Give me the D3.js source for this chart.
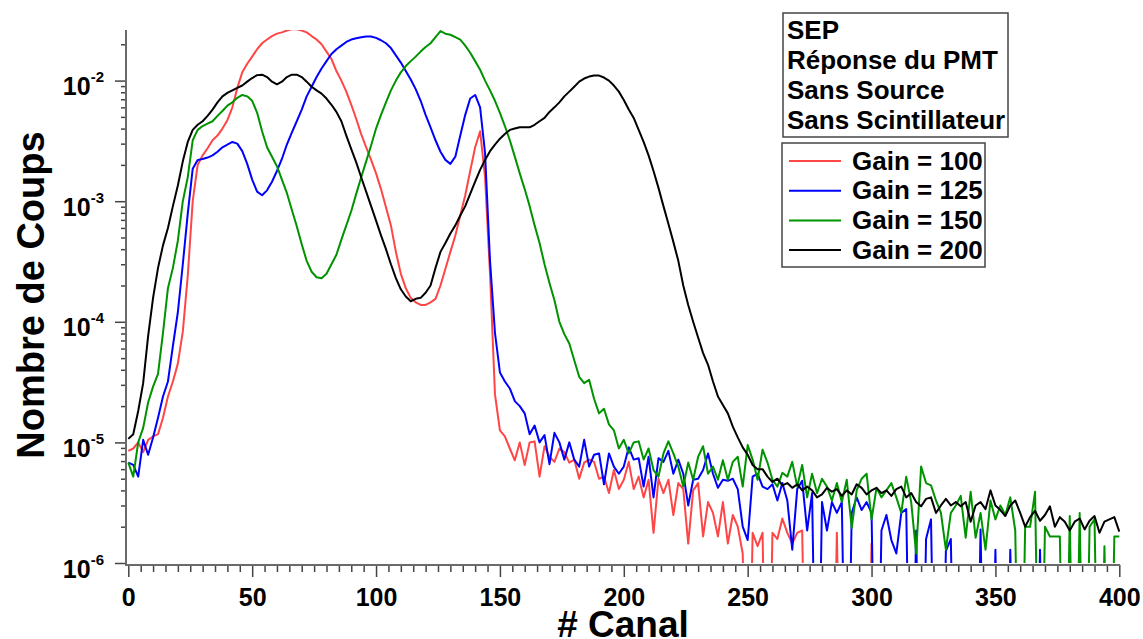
<!DOCTYPE html>
<html>
<head>
<meta charset="utf-8">
<script src="https://cdn.jsdelivr.net/npm/d3@7"></script>
<style>
body { margin: 0; background: #fff; }
text { font-family: "Liberation Sans", Arial, Helvetica, sans-serif; font-weight: bold; fill: #000; }
</style>
</head>
<body>
<script>
// channel numbers (every 2nd channel)
var channels = d3.range(0, 401, 2);

// counts per channel, one value per entry of channels
var gain100 = [
  8.5e-6, 8.9e-6, 1.0e-5, 8.3e-6, 1.05e-5, 1.12e-5, 1.17e-5, 1.6e-5, 2.4e-5, 3.2e-5,
  4.5e-5, 8.3e-5, 2.4e-4, 1.0e-3, 2.0e-3, 2.4e-3, 2.75e-3, 3.2e-3, 3.5e-3, 4.0e-3,
  4.7e-3, 6.0e-3, 8.7e-3, 1.17e-2, 1.38e-2, 1.58e-2, 1.82e-2, 2.04e-2, 2.19e-2, 2.34e-2,
  2.45e-2, 2.51e-2, 2.6e-2, 2.66e-2, 2.66e-2, 2.6e-2, 2.51e-2, 2.34e-2, 2.19e-2, 2.0e-2,
  1.74e-2, 1.51e-2, 1.2e-2, 1.0e-2, 8.1e-3, 6.3e-3, 4.8e-3, 3.6e-3, 2.8e-3, 2.2e-3,
  1.7e-3, 1.26e-3, 8.9e-4, 6.3e-4, 3.8e-4, 2.5e-4, 1.9e-4, 1.58e-4, 1.45e-4, 1.38e-4,
  1.38e-4, 1.45e-4, 1.55e-4, 2.0e-4, 2.75e-4, 3.8e-4, 5.2e-4, 7.6e-4, 1.12e-3, 1.78e-3,
  2.8e-3, 3.8e-3, 1.58e-3, 2.5e-4, 2.5e-5, 1.26e-5, 1.12e-5, 8.9e-6, 7.1e-6, 1.0e-5,
  6.5e-6, 1.0e-5, 1.02e-5, 5.2e-6, 9.3e-6, 7.6e-6, 6.9e-6, 8.9e-6, 8.3e-6, 6.8e-6,
  7.2e-6, 5.0e-6, 6.8e-6, 7.2e-6, 6.9e-6, 5.0e-6, 5.2e-6, 3.8e-6, 5.9e-6, 4.1e-6,
  4.9e-6, 6.9e-6, 4.1e-6, 5.2e-6, 3.5e-6, 4.9e-6, 1.78e-6, 5.0e-6, 3.8e-6, 4.9e-6,
  2.5e-6, 4.6e-6, 4.1e-6, 1.45e-6, 4.0e-6, 4.6e-6, 1.66e-6, 3.2e-6, 2.6e-6, 1.66e-6,
  3.2e-6, 1.45e-6, 2.5e-6, 2.0e-6, 1.2e-6, 0, 1.78e-6, 1.38e-6, 1.78e-6, 0,
  1.78e-6, 1.58e-6, 2.34e-6, 1.78e-6, 1.45e-6, 1.78e-6, 1.86e-6, 0, 0, 0,
  0, 0, 0, 1.78e-6, 0, 0, 0, 0, 0, 0,
  1.45e-6, 0, 0, 0, 0, 0, 0, 0, 0, 0,
  0, 0, 0, 0, 0, 0, 0, 0, 0, 0,
  0, 0, 0, 0, 0, 0, 0, 0, 0, 0,
  0, 0, 0, 0, 0, 0, 0, 0, 0, 0,
  0, 0, 0, 0, 0, 0, 0, 0, 0, 0,
  0
];
var gain125 = [
  6.8e-6, 6.5e-6, 5.2e-6, 1.05e-5, 7.9e-6, 1.1e-5, 1.6e-5, 2.4e-5, 3.2e-5, 6.3e-5,
  1.2e-4, 3.0e-4, 7.9e-4, 1.86e-3, 2.2e-3, 2.24e-3, 2.3e-3, 2.4e-3, 2.57e-3, 2.8e-3,
  2.95e-3, 3.1e-3, 3.0e-3, 2.6e-3, 2.04e-3, 1.51e-3, 1.2e-3, 1.12e-3, 1.23e-3, 1.45e-3,
  1.78e-3, 2.24e-3, 2.95e-3, 3.7e-3, 4.6e-3, 5.75e-3, 7.4e-3, 8.9e-3, 1.07e-2, 1.26e-2,
  1.45e-2, 1.66e-2, 1.82e-2, 1.95e-2, 2.09e-2, 2.19e-2, 2.24e-2, 2.29e-2, 2.32e-2, 2.32e-2,
  2.26e-2, 2.16e-2, 2.04e-2, 1.86e-2, 1.62e-2, 1.41e-2, 1.2e-2, 1.02e-2, 8.5e-3, 6.8e-3,
  5.2e-3, 4.1e-3, 3.2e-3, 2.57e-3, 2.2e-3, 2.04e-3, 2.34e-3, 3.5e-3, 5.2e-3, 7.1e-3,
  7.6e-3, 6.0e-3, 2.5e-3, 3.2e-4, 8.1e-5, 3.8e-5, 3.2e-5, 2.8e-5, 2.2e-5, 2.0e-5,
  1.74e-5, 1.17e-5, 1.38e-5, 1.0e-5, 1.15e-5, 6.6e-6, 1.2e-5, 1.0e-5, 7.2e-6, 1.0e-5,
  7.2e-6, 6.3e-6, 1.05e-5, 6.3e-6, 7.9e-6, 8.1e-6, 4.5e-6, 8.1e-6, 6.3e-6, 5.5e-6,
  6.3e-6, 9.1e-6, 7.2e-6, 7.4e-6, 4.3e-6, 7.6e-6, 3.5e-6, 7.4e-6, 6.9e-6, 8.5e-6,
  5.5e-6, 7.2e-6, 5.5e-6, 3.0e-6, 4.9e-6, 5.0e-6, 5.9e-6, 8.1e-6, 5.5e-6, 4.2e-6,
  4.9e-6, 4.8e-6, 5.0e-6, 4.1e-6, 2.0e-6, 1.55e-6, 5.2e-6, 5.5e-6, 4.3e-6, 4.1e-6,
  4.5e-6, 3.3e-6, 4.6e-6, 3.3e-6, 1.29e-6, 4.1e-6, 4.8e-6, 1.86e-6, 3.8e-6, 0,
  3.2e-6, 1.86e-6, 3.2e-6, 2.6e-6, 3.2e-6, 0, 2.6e-6, 3.5e-6, 2.75e-6, 3.2e-6,
  2.6e-6, 0, 1.86e-6, 2.5e-6, 1.55e-6, 1.2e-6, 2.6e-6, 2.8e-6, 0, 1.86e-6,
  0, 1.58e-6, 2.3e-6, 0, 0, 1.26e-6, 1.58e-6, 0, 0, 0,
  0, 0, 1.9e-6, 0, 0, 1.29e-6, 0, 0, 1.29e-6, 0,
  0, 0, 0, 0, 1.29e-6, 0, 0, 0, 0, 0,
  0, 0, 0, 0, 0, 0, 0, 0, 0, 0,
  0
];
var gain150 = [
  6.8e-6, 5.2e-6, 1.0e-5, 1.32e-5, 2.14e-5, 2.9e-5, 3.7e-5, 8.1e-5, 1.9e-4, 2.8e-4,
  4.7e-4, 1.0e-3, 1.58e-3, 3.2e-3, 3.9e-3, 4.2e-3, 4.4e-3, 4.6e-3, 5.1e-3, 5.6e-3,
  6.2e-3, 6.6e-3, 7.2e-3, 7.6e-3, 7.4e-3, 6.8e-3, 5.4e-3, 3.8e-3, 2.8e-3, 2.34e-3,
  1.95e-3, 1.51e-3, 1.17e-3, 8.5e-4, 6.2e-4, 4.4e-4, 3.2e-4, 2.6e-4, 2.34e-4, 2.3e-4,
  2.5e-4, 3.0e-4, 3.6e-4, 4.8e-4, 6.3e-4, 8.3e-4, 1.15e-3, 1.58e-3, 2.14e-3, 2.9e-3,
  4.0e-3, 5.2e-3, 6.6e-3, 8.3e-3, 1.0e-2, 1.17e-2, 1.32e-2, 1.45e-2, 1.58e-2, 1.74e-2,
  1.9e-2, 2.04e-2, 2.29e-2, 2.57e-2, 2.45e-2, 2.4e-2, 2.29e-2, 2.19e-2, 1.95e-2, 1.7e-2,
  1.45e-2, 1.23e-2, 1.0e-2, 8.3e-3, 6.8e-3, 5.4e-3, 4.2e-3, 3.2e-3, 2.34e-3, 1.7e-3,
  1.26e-3, 9.1e-4, 6.3e-4, 4.5e-4, 3.0e-4, 2.1e-4, 1.51e-4, 1.0e-4, 7.9e-5, 6.6e-5,
  4.8e-5, 3.5e-5, 3.1e-5, 3.3e-5, 2.3e-5, 1.74e-5, 1.9e-5, 1.41e-5, 1.26e-5, 8.9e-6,
  1.05e-5, 8.1e-6, 1.0e-5, 1.02e-5, 7.2e-6, 8.9e-6, 5.9e-6, 5.2e-6, 8.1e-6, 1.02e-5,
  8.1e-6, 6.3e-6, 4.3e-6, 6.8e-6, 4.9e-6, 7.6e-6, 9.3e-6, 5.5e-6, 6.3e-6, 4.9e-6,
  7.1e-6, 4.9e-6, 6.9e-6, 7.6e-6, 4.3e-6, 9.5e-6, 7.2e-6, 4.9e-6, 8.7e-6, 6.8e-6,
  4.9e-6, 4.3e-6, 5.6e-6, 5.2e-6, 6.9e-6, 4.3e-6, 6.5e-6, 3.5e-6, 5.5e-6, 3.8e-6,
  5.0e-6, 4.3e-6, 3.3e-6, 4.6e-6, 3.2e-6, 4.9e-6, 1.95e-6, 4.0e-6, 5.0e-6, 5.5e-6,
  2.3e-6, 4.2e-6, 3.5e-6, 4.0e-6, 4.6e-6, 3.5e-6, 2.6e-6, 5.2e-6, 3.2e-6, 1.2e-6,
  6.3e-6, 4.6e-6, 4.4e-6, 3.3e-6, 2.6e-6, 1.29e-6, 2.6e-6, 3.0e-6, 3.6e-6, 1.62e-6,
  3.9e-6, 1.62e-6, 2.6e-6, 1.29e-6, 3.3e-6, 2.3e-6, 3.0e-6, 2.5e-6, 3.5e-6, 1.86e-6,
  0, 2.0e-6, 2.0e-6, 3.9e-6, 0, 2.0e-6, 1.66e-6, 1.66e-6, 1.66e-6, 0,
  2.45e-6, 0, 2.6e-6, 0, 2.0e-6, 2.3e-6, 0, 1.38e-6, 0, 1.66e-6,
  1.66e-6
];
var gain200 = [
  1.07e-5, 1.17e-5, 1.82e-5, 3.1e-5, 7.6e-5, 1.58e-4, 2.8e-4, 4.3e-4, 6.0e-4, 9.1e-4,
  1.35e-3, 2.14e-3, 3.1e-3, 3.9e-3, 4.3e-3, 4.6e-3, 5.1e-3, 5.75e-3, 6.6e-3, 7.4e-3,
  7.9e-3, 8.3e-3, 8.7e-3, 9.1e-3, 9.8e-3, 1.05e-2, 1.11e-2, 1.12e-2, 1.07e-2, 9.8e-3,
  9.3e-3, 9.8e-3, 1.07e-2, 1.12e-2, 1.12e-2, 1.07e-2, 9.8e-3, 8.9e-3, 8.3e-3, 7.8e-3,
  7.1e-3, 6.3e-3, 5.5e-3, 4.6e-3, 3.5e-3, 2.7e-3, 2.1e-3, 1.58e-3, 1.2e-3, 9.1e-4,
  6.9e-4, 5.2e-4, 4.0e-4, 3.0e-4, 2.3e-4, 1.86e-4, 1.62e-4, 1.48e-4, 1.55e-4, 1.58e-4,
  1.74e-4, 2.0e-4, 2.8e-4, 3.8e-4, 4.5e-4, 5.4e-4, 6.3e-4, 7.6e-4, 9.1e-4, 1.15e-3,
  1.45e-3, 1.82e-3, 2.2e-3, 2.6e-3, 2.95e-3, 3.3e-3, 3.6e-3, 3.9e-3, 4.0e-3, 4.1e-3,
  4.1e-3, 4.1e-3, 4.3e-3, 4.6e-3, 4.9e-3, 5.5e-3, 6.0e-3, 6.6e-3, 7.4e-3, 8.1e-3,
  8.9e-3, 9.8e-3, 1.04e-2, 1.08e-2, 1.1e-2, 1.1e-2, 1.06e-2, 1.0e-2, 9.1e-3, 8.1e-3,
  6.9e-3, 5.75e-3, 4.9e-3, 3.9e-3, 3.1e-3, 2.4e-3, 1.78e-3, 1.29e-3, 9.1e-4, 6.5e-4,
  4.6e-4, 3.2e-4, 2.0e-4, 1.38e-4, 1.0e-4, 7.4e-5, 5.5e-5, 4.4e-5, 3.2e-5, 2.4e-5,
  2.04e-5, 1.74e-5, 1.35e-5, 1.1e-5, 9.1e-6, 7.9e-6, 6.5e-6, 6.0e-6, 6.0e-6, 5.2e-6,
  4.7e-6, 5.0e-6, 4.4e-6, 4.6e-6, 4.2e-6, 4.5e-6, 4.0e-6, 4.3e-6, 4.0e-6, 3.5e-6,
  3.7e-6, 4.2e-6, 3.9e-6, 4.1e-6, 3.6e-6, 4.0e-6, 3.7e-6, 4.5e-6, 4.2e-6, 3.7e-6,
  4.0e-6, 4.2e-6, 3.8e-6, 4.0e-6, 3.6e-6, 4.1e-6, 4.3e-6, 3.5e-6, 3.8e-6, 3.2e-6,
  2.95e-6, 3.4e-6, 3.5e-6, 2.6e-6, 3.0e-6, 3.4e-6, 3.0e-6, 3.2e-6, 2.95e-6, 3.2e-6,
  2.2e-6, 3.0e-6, 3.2e-6, 2.8e-6, 4.0e-6, 3.0e-6, 2.75e-6, 2.45e-6, 3.0e-6, 3.3e-6,
  2.6e-6, 2.0e-6, 2.4e-6, 2.7e-6, 2.24e-6, 2.5e-6, 2.95e-6, 2.0e-6, 2.4e-6, 2.2e-6,
  1.86e-6, 2.2e-6, 2.34e-6, 1.9e-6, 2.24e-6, 2.45e-6, 1.78e-6, 2.2e-6, 2.3e-6, 2.4e-6,
  1.82e-6
];

var seriesNames = ["Gain = 100", "Gain = 125", "Gain = 150", "Gain = 200"];
var seriesColors = ["#ff4646", "#0000ff", "#009300", "#000000"];
var seriesValues = [gain100, gain125, gain150, gain200];
var noteLines = ["SEP", "Réponse du PMT", "Sans Source", "Sans Scintillateur"];
var xTicks = [0, 50, 100, 150, 200, 250, 300, 350, 400];
var yTicks = [1e-6, 1e-5, 1e-4, 1e-3, 1e-2];

var width = 1143, height = 639;
var svg = d3.select("body").append("svg")
  .attr("width", width)
  .attr("height", height);

var x = d3.scaleLinear().domain([0, 400]).range([128.3, 1119.3]);
var y = d3.scaleLog().domain([1e-6, 0.02627]).range([563, 30]);

// clip for the curves
svg.append("clipPath").attr("id", "plot")
  .append("rect").attr("x", 126).attr("y", 30).attr("width", 996).attr("height", 533);

// minor and major ticks on x
var xMinor = d3.range(0, 401, 5).filter(function(d) { return d % 50 != 0; });
svg.append("g").attr("transform", "translate(0,565)")
  .call(d3.axisBottom(x).tickValues(xMinor).tickSize(7).tickSizeOuter(0).tickFormat(""))
  .call(function(g) { g.select(".domain").remove(); g.selectAll("line").attr("stroke", "#444").attr("stroke-width", 1.5); });
var gx = svg.append("g").attr("transform", "translate(0,565)")
  .call(d3.axisBottom(x).tickValues(xTicks).tickSize(12).tickSizeOuter(0).tickFormat(d3.format("d")))
  .call(function(g) { g.select(".domain").remove(); g.selectAll("line").attr("stroke", "#444").attr("stroke-width", 1.5); });
gx.selectAll("text").attr("y", 41).attr("dy", 0)
  .style("font-size", "25px").style("font-family", null).attr("fill", "#000");

// minor and major ticks on y
var yMinor = [];
d3.range(-6, -1).forEach(function(e) {
  d3.range(2, 10).forEach(function(m) {
    var v = m * Math.pow(10, e);
    if (v <= y.domain()[1]) yMinor.push(v);
  });
});
svg.append("g").attr("transform", "translate(126,0)")
  .call(d3.axisLeft(y).tickValues(yMinor).tickSize(5).tickSizeOuter(0).tickFormat(""))
  .call(function(g) { g.select(".domain").remove(); g.selectAll("line").attr("stroke", "#444").attr("stroke-width", 1.5); });
var gy = svg.append("g").attr("transform", "translate(126,0)")
  .call(d3.axisLeft(y).tickValues(yTicks).tickSize(11).tickSizeOuter(0))
  .call(function(g) { g.select(".domain").remove(); g.selectAll("line").attr("stroke", "#444").attr("stroke-width", 1.5); });
gy.selectAll("text").each(function(d) {
  var t = d3.select(this).text(null)
    .attr("x", -22).attr("dy", 14).attr("fill", "#000")
    .style("font-family", null).style("font-size", "25px");
  t.append("tspan").text("10");
  t.append("tspan").attr("dy", -13).style("font-size", "15px")
    .text(Math.round(Math.log10(d)));
});

// axis lines
svg.append("line").attr("x1", 126).attr("x2", 126).attr("y1", 30).attr("y2", 565)
  .attr("stroke", "#6a6a6a").attr("stroke-width", 2);
svg.append("line").attr("x1", 125).attr("x2", 1120).attr("y1", 565).attr("y2", 565)
  .attr("stroke", "#6a6a6a").attr("stroke-width", 2);

// curves
var line = d3.line()
  .x(function(d, i) { return x(channels[i]); })
  .y(function(d) { return y(Math.max(d, 1e-8)); });
svg.append("g").attr("clip-path", "url(#plot)")
  .selectAll("path").data(seriesValues).enter().append("path")
  .attr("d", line)
  .attr("fill", "none")
  .attr("stroke", function(d, i) { return seriesColors[i]; })
  .attr("stroke-width", 2)
  .attr("stroke-linejoin", "round");

// axis titles
svg.append("text").attr("x", 623).attr("y", 637).attr("text-anchor", "middle")
  .style("font-size", "37px").text("# Canal");
svg.append("text").attr("transform", "translate(44,295) rotate(-90)").attr("text-anchor", "middle")
  .style("font-size", "38px").text("Nombre de Coups");

// text box
svg.append("rect").attr("x", 783).attr("y", 13).attr("width", 225).attr("height", 124)
  .attr("fill", "#fff").attr("stroke", "#444").attr("stroke-width", 1.5);
svg.selectAll(".note").data(noteLines).enter().append("text")
  .attr("class", "note").attr("x", 787).attr("y", function(d, i) { return 39 + i * 30; })
  .style("font-size", "26px").text(function(d) { return d; });

// legend
svg.append("rect").attr("x", 782).attr("y", 143).attr("width", 203).attr("height", 124)
  .attr("fill", "#fff").attr("stroke", "#444").attr("stroke-width", 1.5);
var leg = svg.selectAll(".leg").data(seriesNames).enter().append("g")
  .attr("class", "leg").attr("transform", function(d, i) { return "translate(0," + (161 + i * 29.7) + ")"; });
leg.append("line").attr("x1", 789).attr("x2", 841).attr("y1", 0).attr("y2", 0)
  .attr("stroke", function(d, i) { return seriesColors[i]; }).attr("stroke-width", 2);
leg.append("text").attr("x", 852).attr("y", 8.5).style("font-size", "26px")
  .text(function(d) { return d; });
</script>
</body>
</html>
